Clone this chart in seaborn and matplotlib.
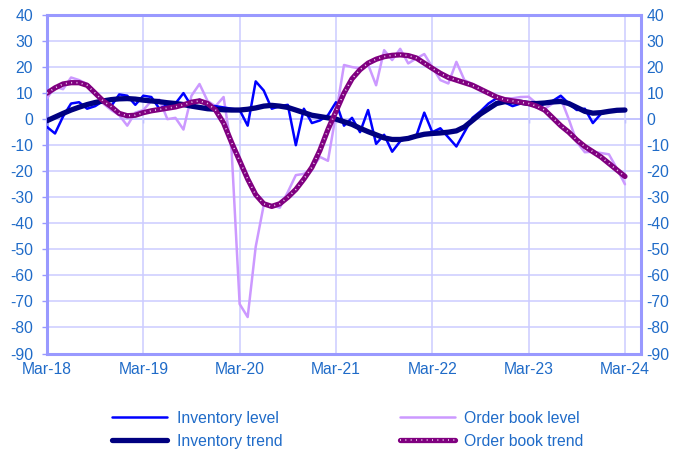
import numpy as np
import matplotlib
matplotlib.use("Agg")
import matplotlib.pyplot as plt
from matplotlib.legend_handler import HandlerTuple
import seaborn as sns

# -----------------------
# Data (monthly, Mar-18 .. Mar-24)
# -----------------------
inv_level = [-3, -5.5, 1, 6, 6.5, 4, 5, 7, 5, 9.5,
             9, 5.5, 9, 8.5, 4, 5.5, 6, 10, 5, 7.5,
             5, 5, 4.5, 4, 3.5, -2.5, 14.5, 11, 4, 5,
             5.5, -10, 4, -1.5, -0.5, 1.5, 6.5, -2.5, 0.5, -5,
             3.5, -9.5, -6, -12.5, -8.5, -7, -6.5, 2.5, -5, -3.5,
             -7, -10.5, -5, 0.5, 3, 6, 8, 6.5, 5, 6,
             6.5, 4.5, 6, 7, 9, 6, 3.5, 4, -1.5, 2,
             3, 3.5, 3.5]

inv_trend = [-0.6, 0.8, 2.2, 3.5, 4.6, 5.6, 6.4, 7, 7.5, 7.8,
             7.9, 7.7, 7.3, 7, 6.7, 6.3, 6, 5.6, 5, 4.5,
             4, 3.8, 3.6, 3.5, 3.5, 3.8, 4.3, 5, 5.3, 5,
             4.5, 3.5, 2.5, 1.5, 1, 0.5, 0, -1, -2, -3.5,
             -4.8, -6, -7.2, -7.8, -7.8, -7.4, -6.5, -5.8, -5.5, -5.3,
             -5, -4.5, -3, -0.5, 2, 4, 6, 6.7, 6.7, 6.5,
             6, 6, 6.2, 6.6, 6.8, 6, 4.5, 3, 2.3, 2.5,
             3, 3.4, 3.5]

ob_level = [8, 12.5, 11.5, 16, 15, 13.5, 10.5, 6, 3.5, 1.5,
            -2.5, 2.5, 3.5, 7, 7.5, 0, 0.5, -4, 9, 13.5,
            7, 5, 8.5, -12, -71, -76, -49, -33, -33, -34,
            -28, -21.5, -21, -19, -14.5, -16, 2, 20.8, 20, 19.5,
            21, 13, 26.5, 22.7, 27, 21.4, 23.3, 25, 20, 15,
            13.7, 22, 15, 13.5, 12, 10, 8.6, 8, 8, 8.5,
            8.6, 6, 4, 6, 8, 0, -8.8, -12.7, -12.5, -13,
            -13.5, -19, -25]

ob_trend = [10, 12, 13.5, 14, 14, 13, 10, 7, 4.8, 2.2,
            1.3, 1.5, 2.5, 3.2, 3.7, 4.2, 4.7, 5.5, 6.5, 7,
            6, 3.5, -1.5, -9, -16, -23, -29, -32.5, -33.5, -32.5,
            -30, -27, -23, -18.5, -12, -4, 3, 10, 15.5, 19,
            21.5, 23, 24, 24.5, 24.7, 24.4, 23.5, 21.5, 19.5, 17.6,
            16, 15, 14, 13, 11.5, 10, 8.5, 7.5, 7, 6.5,
            6, 5, 3.5, 0.5, -2.5, -5, -8, -10.5, -12.5, -14.5,
            -17, -19.5, -22]

tick_labels = ["Mar-18", "Mar-19", "Mar-20", "Mar-21", "Mar-22", "Mar-23", "Mar-24"]
series_names = ["Inventory level", "Inventory trend", "Order book level", "Order book trend"]

# -----------------------
# Style
# -----------------------
sns.set_style("white")
plt.rcParams["font.family"] = ["Liberation Sans", "DejaVu Sans"]
plt.rcParams["axes.unicode_minus"] = False

txt_col = "#1F6BC8"
grid_col = "#CCCCFF"
axis_col = "#9999FF"
fs = 11.3

months = np.arange(len(inv_level))
year_pos = months[::12]
yticks = np.arange(-90, 41, 10)

fig, ax = plt.subplots(figsize=(6.88, 4.5), dpi=100)
fig.subplots_adjust(left=0.0683, right=0.9317, bottom=0.2144, top=0.9667)

sns.lineplot(x=months, y=ob_level, color="#CC99FF", lw=1.8, ax=ax, zorder=3)
sns.lineplot(x=months, y=inv_level, color="#0000FF", lw=1.8, ax=ax, zorder=4)
sns.lineplot(x=months, y=inv_trend, color="#000080", lw=3.8, ax=ax, zorder=5)
sns.lineplot(x=months, y=ob_trend, color="#800080", lw=3.8, ax=ax, zorder=6)
sns.lineplot(x=months, y=ob_trend, color="#EFCFEF", lw=1.2,
             linestyle=(0, (0.6, 2.6)), ax=ax, zorder=7)

ax.set_xlim(0, 74)
ax.set_ylim(-90, 40)
ax.set_xticks(year_pos)
ax.set_xticklabels(tick_labels)
ax.set_yticks(yticks)
ax.set_yticklabels([str(v) for v in yticks])
ax.set_xlabel("")
ax.set_ylabel("")
ax.grid(True, color=grid_col, lw=1.1)
ax.set_axisbelow(True)
ax.tick_params(axis="x", length=0, pad=6, labelsize=fs, labelcolor=txt_col)
ax.tick_params(axis="y", length=3.5, width=1, color=axis_col, pad=6.5,
               labelsize=fs, labelcolor=txt_col)
for s in ax.spines.values():
    s.set_color(axis_col)
    s.set_linewidth(2.2)

# zero line with small ticks
sec = ax.secondary_xaxis(90 / 130)
sec.set_alignment("bottom")
sec.set_xticks(year_pos)
sec.set_xticklabels([])
sec.tick_params(direction="out", length=3, width=1, color=axis_col)
for s in sec.spines.values():
    s.set_color(axis_col)
    s.set_linewidth(1.2)

# right axis labels
ax2 = ax.twinx()
ax2.set_ylim(-90, 40)
ax2.set_yticks(yticks)
ax2.set_yticklabels([str(v) for v in yticks])
ax2.tick_params(axis="y", length=0, pad=4, labelsize=fs, labelcolor=txt_col)
for s in ax2.spines.values():
    s.set_visible(False)

# legend
lines = ax.get_lines()
handles = [lines[1], lines[2], lines[0], (lines[3], lines[4])]
fig.legend(handles, series_names, ncol=2, loc="center",
           bbox_to_anchor=(0.506, 0.045), frameon=False,
           handlelength=3.5, handletextpad=0.6, columnspacing=7.5,
           labelspacing=0.5, fontsize=fs, labelcolor=txt_col,
           handler_map={tuple: HandlerTuple(ndivide=1)})

fig.savefig("out.png", dpi=100)
